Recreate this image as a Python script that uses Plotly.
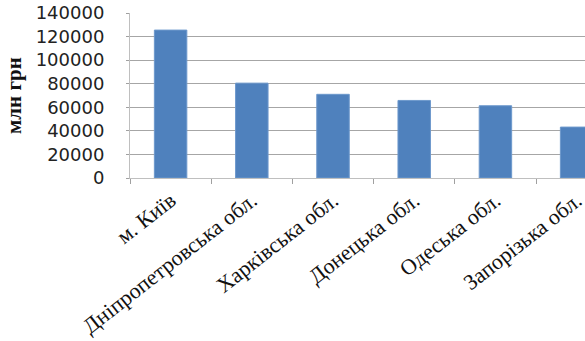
import plotly.graph_objects as go

categories = ["м. Київ", "Дніпропетровська обл.", "Харківська обл.",
              "Донецька обл.", "Одеська обл.", "Запорізька обл."]
values = [125500, 80500, 71000, 65800, 61300, 43200]
y_ticks = [0, 20000, 40000, 60000, 80000, 100000, 120000, 140000]
y_title = "млн грн"

W, H = 585, 341
L, R, T, B = 130, 0, 13, 163

fig = go.Figure()
fig.add_trace(go.Bar(
    x=categories, y=values,
    marker=dict(color="#4F81BD", line=dict(color="#6d98cc", width=1)),
    width=0.4,
))

fig.update_layout(
    width=W, height=H,
    margin=dict(l=L, r=R, t=T, b=B, pad=0, autoexpand=False),
    paper_bgcolor="white", plot_bgcolor="white",
    showlegend=False,
    xaxis=dict(
        type="category",
        range=[-0.5, 5.103],
        automargin=False,
        tickson="boundaries",
        ticks="outside", ticklen=5, tickcolor="#a0a0a0",
        showline=True, linecolor="#bfbfbf", linewidth=1,
        showgrid=False,
        tickangle=-38,
        tickfont=dict(family="Liberation Serif", size=22, color="#111"),
    ),
    yaxis=dict(
        range=[0, 140000],
        automargin=False,
        tickvals=y_ticks,
        ticktext=[str(v) for v in y_ticks],
        showgrid=True, gridcolor="#a6a6a6", gridwidth=1,
        showline=True, linecolor="#bfbfbf", linewidth=1,
        ticks="outside", ticklen=3, tickcolor="#a0a0a0",
        ticklabelstandoff=18,
        zeroline=False,
        tickfont=dict(family="DejaVu Sans", size=18, color="#222"),
    ),
    annotations=[dict(
        text="<b>" + y_title + "</b>",
        xref="paper", yref="paper",
        x=(14 - L) / (W - L - R), y=(H - B - 96) / (H - T - B),
        xanchor="center", yanchor="middle",
        textangle=-90, showarrow=False,
        font=dict(family="Liberation Serif", size=21, color="#111"),
    )],
)

fig.write_html("out.html")
